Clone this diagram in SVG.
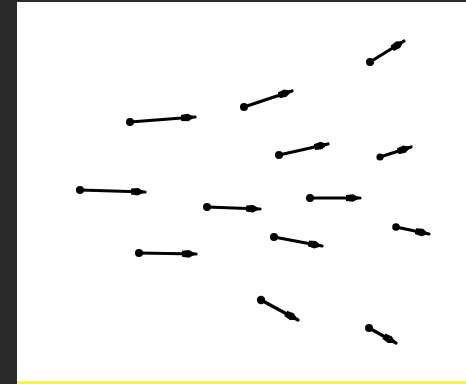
<svg xmlns="http://www.w3.org/2000/svg" width="466" height="384" viewBox="0 0 466 384">
<defs>
<marker id="ah" markerUnits="userSpaceOnUse" markerWidth="18" markerHeight="12" refX="14" refY="6" orient="auto">
<path d="M0,3 L7,2.2 L14,6 L7,9.8 L0,9 Z" fill="#000"/>
</marker>
</defs>
<style>
.v line{stroke:#000;stroke-width:3.2;stroke-linecap:round;marker-end:url(#ah)}
.v circle{fill:#000}
</style>
<rect x="0" y="0" width="466" height="384" fill="#2b2b2b"/>
<rect x="17" y="2" width="449" height="380" fill="#fff"/>
<rect x="17" y="381" width="449" height="3" fill="#f5f542"/>
<g id="arrows">
<g id="a1" class="v"><line x1="130" y1="122" x2="195" y2="117"/><circle cx="130" cy="122" r="4"/></g>
<g id="a2" class="v"><line x1="244" y1="107" x2="292" y2="91"/><circle cx="244" cy="107" r="4"/></g>
<g id="a3" class="v"><line x1="370" y1="62" x2="404" y2="41"/><circle cx="370" cy="62" r="4"/></g>
<g id="a4" class="v"><line x1="279" y1="155" x2="328" y2="144"/><circle cx="279" cy="155" r="4"/></g>
<g id="a5" class="v"><line x1="380" y1="157" x2="411" y2="147"/><circle cx="380" cy="157" r="3.6"/></g>
<g id="a6" class="v"><line x1="80" y1="190" x2="145" y2="192"/><circle cx="80" cy="190" r="4"/></g>
<g id="a7" class="v"><line x1="207" y1="207" x2="260" y2="209"/><circle cx="207" cy="207" r="4"/></g>
<g id="a8" class="v"><line x1="310" y1="198" x2="360" y2="198"/><circle cx="310" cy="198" r="4"/></g>
<g id="a9" class="v"><line x1="274" y1="237" x2="322" y2="246"/><circle cx="274" cy="237" r="4"/></g>
<g id="a10" class="v"><line x1="396" y1="227" x2="429" y2="234"/><circle cx="396" cy="227" r="3.8"/></g>
<g id="a11" class="v"><line x1="139" y1="253" x2="196" y2="254"/><circle cx="139" cy="253" r="4"/></g>
<g id="a12" class="v"><line x1="261" y1="300" x2="298" y2="320"/><circle cx="261" cy="300" r="4.2"/></g>
<g id="a13" class="v"><line x1="369" y1="328" x2="396" y2="343"/><circle cx="369" cy="328" r="4"/></g>
</g>
</svg>
